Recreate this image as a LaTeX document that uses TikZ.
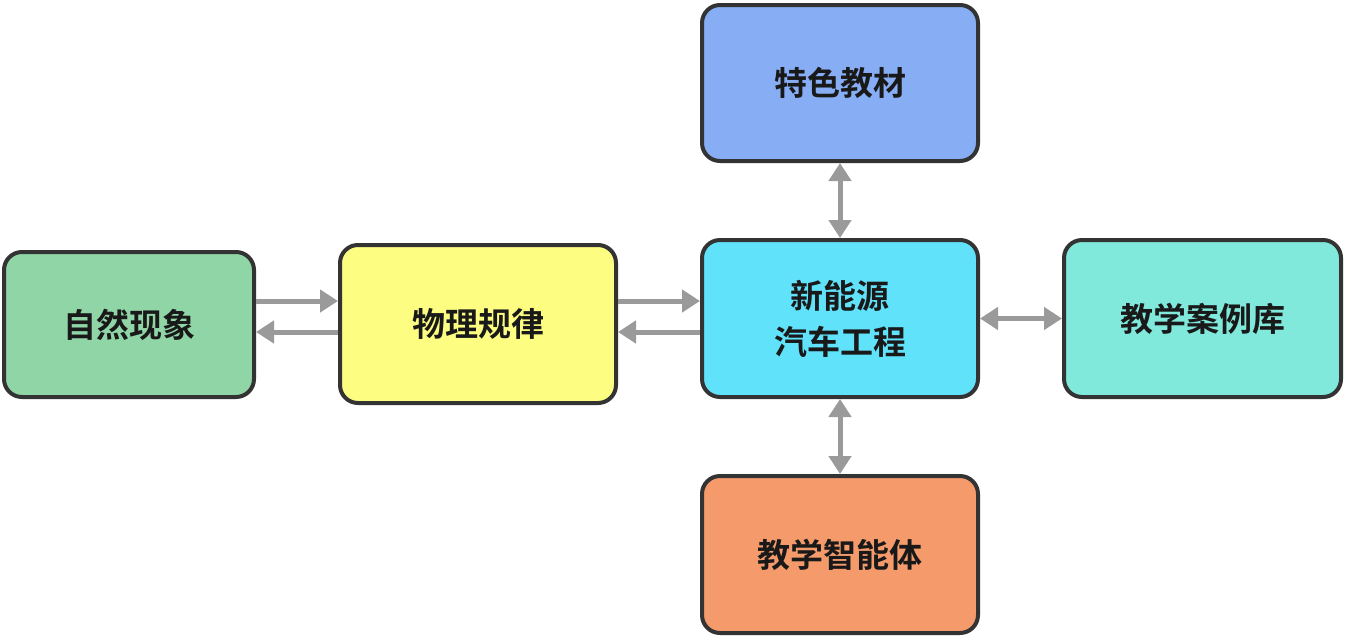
\documentclass[tikz,border=0pt]{standalone}
\usepackage{fontspec}
\newfontfamily\cjk{Noto Sans CJK SC}[BoldFont={Noto Sans CJK SC Bold}]
\usetikzlibrary{arrows.meta}
\definecolor{bordc}{HTML}{333333}
\definecolor{arrc}{HTML}{9A9A9A}
\definecolor{cgreen}{HTML}{8FD5A6}
\definecolor{cyellow}{HTML}{FDFD82}
\definecolor{ccyan}{HTML}{61E2FB}
\definecolor{cblue}{HTML}{87AEF5}
\definecolor{cteal}{HTML}{80E9DB}
\definecolor{corange}{HTML}{F49A6B}
\tikzset{
  box/.style={draw=bordc, line width=4pt, rounded corners=18pt, rectangle,
    font=\cjk\bfseries\fontsize{33}{46}\selectfont, text=black!90, align=center, inner sep=0pt},
  arr/.style={draw=arrc, line width=5pt, -{Triangle[length=18pt,width=22pt]}},
  darr/.style={draw=arrc, line width=5pt, {Triangle[length=18pt,width=22pt]}-{Triangle[length=18pt,width=22pt]}}
}
\begin{document}
\begin{tikzpicture}[x=1pt,y=-1pt]
\useasboundingbox (0,0) rectangle (1346,638);
\node[box, fill=cgreen, minimum width=250pt, minimum height=145pt] (n1) at (129,324.5) {自然现象};
\node[box, fill=cyellow, minimum width=276pt, minimum height=158pt] (n2) at (478,324) {物理规律};
\node[box, fill=ccyan, minimum width=276pt, minimum height=157pt] (nc) at (840,318.5) {新能源\\汽车工程};
\node[box, fill=cblue, minimum width=276pt, minimum height=156pt] (nt) at (840,83) {特色教材};
\node[box, fill=cteal, minimum width=277pt, minimum height=157pt] (nr) at (1202.5,318.5) {教学案例库};
\node[box, fill=corange, minimum width=276pt, minimum height=157pt] (nb) at (840,554.5) {教学智能体};
\draw[arr] (n1.east |- 0,301) -- (n2.west |- 0,301);
\draw[arr] (n2.west |- 0,332) -- (n1.east |- 0,332);
\draw[arr] (n2.east |- 0,301) -- (nc.west |- 0,301);
\draw[arr] (nc.west |- 0,332) -- (n2.east |- 0,332);
\draw[darr] (nt.south) -- (nc.north);
\draw[darr] (nc.south) -- (nb.north);
\draw[darr] (nc.east) -- (nr.west);
\end{tikzpicture}
\end{document}
